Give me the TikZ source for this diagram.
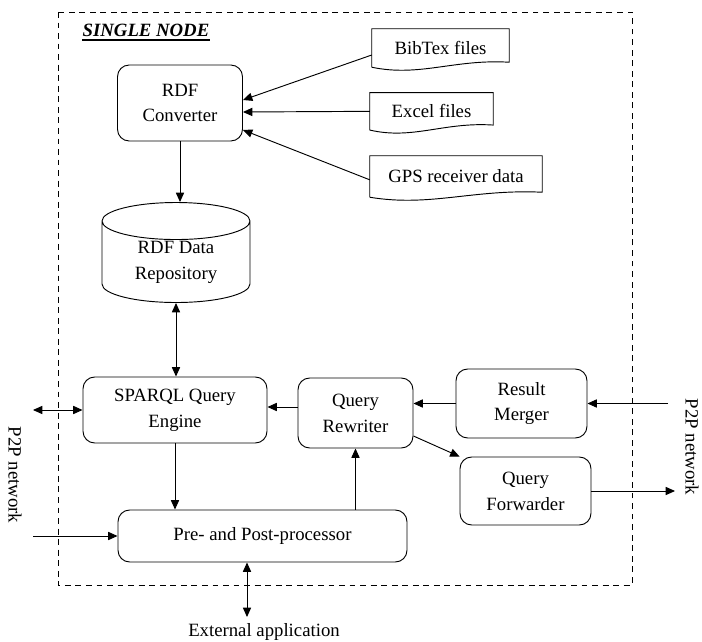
\documentclass[tikz,border=0pt]{standalone}
\usepackage{fontspec}
\setmainfont{Liberation Serif}
\usetikzlibrary{positioning}
\usetikzlibrary{arrows.meta}
\usetikzlibrary{shapes.geometric}
\usetikzlibrary{calc}
\tikzset{
every node/.style={font=\fontsize{16}{22}\selectfont},
box/.style={ % rounded process blocks
draw, rounded corners=0.35cm, line width=0.8pt, align=center, inner sep=0pt},
doc/.style={ % input files, outline drawn by \docshape
align=center, inner sep=0pt, minimum height=1.14cm},
db/.style={ % the repository
cylinder, shape border rotate=90, draw, line width=0.8pt, aspect=0.45,
align=center, inner sep=0pt},
twoway/.style={{Triangle[length=8pt,width=7pt]}-{Triangle[length=8pt,width=7pt]}},
every edge/.style={ % all connectors
draw, -{Triangle[length=8pt,width=7pt]}, line width=0.8pt}}
% file symbol with a wavy bottom
\newcommand{\docshape}[1]{%
\draw[line width=0.8pt] (#1.south west) -- (#1.north west) -- (#1.north east)
 -- ($(#1.south east)+(0,0.15)$)
 .. controls ($(#1.south east)!0.4!(#1.south west)+(0,0.25)$)
 and ($(#1.south east)!0.65!(#1.south west)+(0,-0.3)$) .. (#1.south west);}

\begin{document}
\begin{tikzpicture}
\useasboundingbox (0,0) rectangle (21.06,-19.26);
\draw[line width=0.8pt, dash pattern=on 5pt off 4pt] (1.74,-0.36) rectangle (18.96,-17.55);
\node[font=\fontsize{16}{19}\selectfont\bfseries\itshape, inner sep=0pt] (title) at (4.38,-0.9) {SINGLE NODE};
\draw[line width=1.6pt] ([yshift=-3pt]title.south west) -- ([yshift=-3pt]title.south east);

\node[box, minimum width=3.75cm, minimum height=2.28cm] (conv) at (5.4,-3.09) {RDF\\Converter};
\node[doc, minimum width=4.11cm] (bib) at (13.215,-1.44) {BibTex files};
\node[doc, minimum width=3.69cm, minimum height=1.11cm] (xls) at (12.945,-3.34) {Excel files};
\node[doc, minimum width=5.16cm, minimum height=1.23cm] (gps) at (13.68,-5.295) {GPS receiver data};
\node[db, minimum width=4.44cm, minimum height=3cm] (repo) at (5.28,-7.86) {RDF Data\\Repository};
\node[box, minimum width=5.52cm, minimum height=1.98cm] (sparql) at (5.25,-12.3) {SPARQL Query\\Engine};
\node[box, minimum width=3.45cm, minimum height=2.1cm] (rewr) at (10.665,-12.39) {Query\\Rewriter};
\node[box, minimum width=3.93cm, minimum height=2.07cm] (merger) at (15.645,-12.105) {Result\\Merger};
\node[box, minimum width=3.93cm, minimum height=2.04cm] (forw) at (15.765,-14.73) {Query\\Forwarder};
\node[box, minimum width=8.67cm, minimum height=1.56cm] (pre) at (7.875,-16.08) {Pre- and Post-processor};

\node[rotate=-90] (p2pL) at (0.45,-14.25) {P2P network};
\node[rotate=-90] (p2pR) at (20.76,-13.41) {P2P network};
\node (extapp) at (7.92,-18.96) {External application};

\coordinate (inL) at (0.99,-12.3);
\coordinate (inL2) at (0.99,-16.08);
\coordinate (inR) at (20.04,-12.105);
\coordinate (outR) at (20.25,-14.73);
\coordinate (ext) at (7.41,-18.51);
\coordinate (rw) at ([yshift=0.18cm]rewr.west);

\docshape{bib}
\docshape{xls}
\docshape{gps}

\draw ([yshift=-0.21cm]bib.west) edge ([yshift=0.09cm]conv.east) ;
\draw (xls.west) edge ([yshift=-0.27cm]conv.east) ;
\draw ([yshift=-0.1cm]gps.west) edge ([yshift=-0.81cm]conv.east) ;
\draw (conv.south) edge (conv.south |- repo.north) ;
\draw (repo.south) edge[twoway] (repo.south |- sparql.north) ;
\draw (rw) edge (rw -| sparql.east) ;
\draw (merger.west) edge (merger.west -| rewr.east) ;
\draw (inR) edge (merger.east) ;
\draw ([yshift=-0.69cm]rewr.east) edge (forw.north west) ;
\draw (forw.east) edge (outR) ;
\draw (sparql.south) edge (sparql.south |- pre.north) ;
\draw (pre.north -| rewr.south) edge (rewr.south) ;
\draw (inL) edge[twoway] (sparql.west) ;
\draw (inL2) edge (pre.west) ;
\draw (ext) edge[twoway] (ext |- pre.south) ;
\end{tikzpicture}
\end{document}
